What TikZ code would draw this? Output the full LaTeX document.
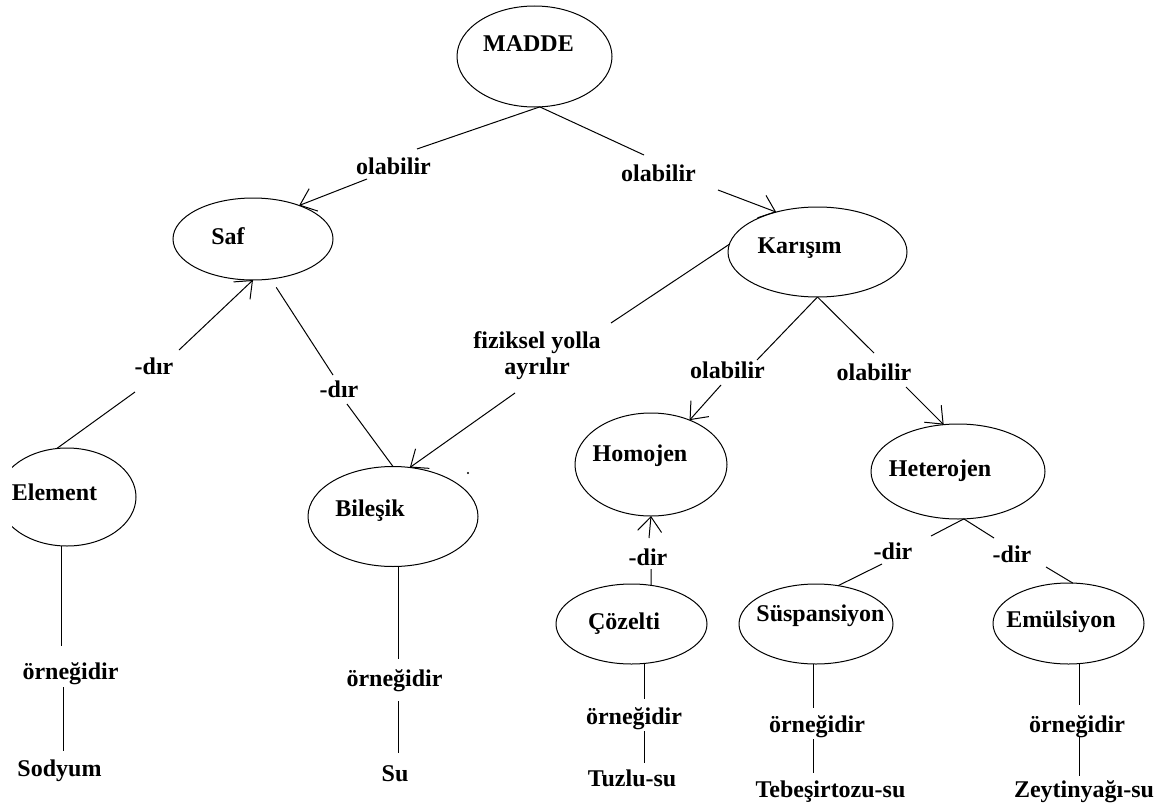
\documentclass[tikz,border=0pt]{standalone}
\usepackage{fontspec}
\setmainfont{Liberation Serif}
\usetikzlibrary{arrows.meta,shapes.geometric}
\begin{document}
\begin{tikzpicture}[x=0.75pt,y=-0.75pt,line width=0.75pt,
  every node/.style={font=\bfseries\fontsize{18}{19.5}\selectfont},
  bubble/.style={draw, ellipse, inner sep=0pt, outer sep=0pt},
  sz/.style 2 args={minimum width=#1*0.75pt, minimum height=#2*0.75pt},
  txt/.style={inner sep=0pt, text height=12.3pt, text depth=0pt},
  link/.style={line width=0.75pt},
  arr/.style={link, -{Straight Barb[length=11pt,width=18pt]}}]

\useasboundingbox (0,0) rectangle (1164,803);

% concept bubbles
\node[bubble, sz={155}{101}] (madde)       at (534.5,56.5)  {};
\node[bubble, sz={160}{82}]  (saf)         at (253,239)     {};
\node[bubble, sz={179}{90}]  (karisim)     at (817.5,252)   {};
\begin{scope}
  \clip (12,0) rectangle (1164,803);
  \node[bubble, sz={138}{98}] (element)    at (67,497)      {};
\end{scope}
\node[bubble, sz={170}{100}] (bilesik)     at (393,516.5)   {};
\node[bubble, sz={152}{103}] (homojen)     at (651,464.5)   {};
\node[bubble, sz={174}{95}]  (heterojen)   at (958,471.5)   {};
\node[bubble, sz={151}{80}]  (cozelti)     at (631.5,624)   {};
\node[bubble, sz={154}{80}]  (suspansiyon) at (816,624)     {};
\node[bubble, sz={151}{81}]  (emulsiyon)   at (1068.5,623.5){};

% bubble titles
\node[txt] (maddeT)       at (528.5,43)  {MADDE};
\node[txt] (safT)         at (228,236)   {Saf};
\node[txt] (karisimT)     at (799.5,245) {Karışım};
\node[txt] (elementT)     at (54.5,492)  {Element};
\node[txt] (bilesikT)     at (370,508)   {Bileşik};
\node[txt] (homojenT)     at (640,453)   {Homojen};
\node[txt] (heterojenT)   at (940,468)   {Heterojen};
\node[txt] (cozeltiT)     at (624,621)   {Çözelti};
\node[txt] (suspansiyonT) at (820.5,613) {Süspansiyon};
\node[txt] (emulsiyonT)   at (1061,619)  {Emülsiyon};

% link words
\node[txt] (olabL)  at (393.5,166) {olabilir};
\node[txt] (olabR)  at (658.5,173) {olabilir};
\node[txt] (olabHo) at (727.5,370) {olabilir};
\node[txt] (olabHe) at (874,372)   {olabilir};
\node[txt] (dirL)   at (154,366)   {-dır};
\node[txt] (dirR)   at (339,389)   {-dır};
\node[inner sep=0pt, align=center, anchor=north] (fiz) at (537,330.6) {fiziksel yolla\\ayrılır};
\node[txt] (dirCoz) at (648,557)   {-dir};
\node[txt] (dirSus) at (893,551)   {-dir};
\node[txt] (dirEmu) at (1012,554)  {-dir};

% examples
\node[txt] (orn1)    at (70.5,671)  {örneğidir};
\node[txt] (sodyum)  at (59.5,768)  {Sodyum};
\node[txt] (orn2)    at (394.5,678) {örneğidir};
\node[txt] (su)      at (395,773)   {Su};
\node[txt] (orn3)    at (634,716)   {örneğidir};
\node[txt] (tuzlu)   at (632,778)   {Tuzlu-su};
\node[txt] (orn4)    at (817,724)   {örneğidir};
\node[txt] (tebesir) at (830.5,789) {Tebeşirtozu-su};
\node[txt] (orn5)    at (1077,724)  {örneğidir};
\node[txt] (zeytin)  at (1084,789)  {Zeytinyağı-su};

% madde branches
\draw[link] (madde.-84) -- ([shift={(23.5,-17)}]olabL.center);
\draw[arr]  ([shift={(-26.5,13)}]olabL.center) -- (saf.36);
\draw[link] (madde.-84) -- ([shift={(-14.5,-18)}]olabR.center);
\draw[arr]  ([shift={(59.5,17)}]olabR.center) -- (karisim.136);

% saf branches
\draw[arr]  ([shift={(25,-16)}]dirL.center) -- (saf.south);
\draw[link] ([shift={(-19,26)}]dirL.center) -- (element.102);
\draw[link, shorten <=7.5pt] (saf.-66) -- ([shift={(-6,-14)}]dirR.center);
\draw[link] ([shift={(8,15)}]dirR.center) -- (bilesik.north);

% karisim branches
\draw[link] (karisim.175) -- ([shift={(74,-7.6)}]fiz.north);
\draw[arr]  ([shift={(-22,62.4)}]fiz.north) -- (bilesik.71);
\draw[link] (karisim.south) -- ([shift={(29.5,-10)}]olabHo.center);
\draw[arr]  ([shift={(-6.5,15)}]olabHo.center) -- (homojen.49);
\draw[link] (karisim.south) -- ([shift={(0,-19)}]olabHe.center);
\draw[arr]  ([shift={(32,15)}]olabHe.center) -- (heterojen.107);

% homojen / heterojen branches
\draw[arr]  ([shift={(1,-19)}]dirCoz.center) -- (homojen.south);
\draw[link] ([shift={(3,12)}]dirCoz.center) -- (cozelti.63);
\draw[link] (heterojen.-83) -- ([shift={(38,-15)}]dirSus.center);
\draw[link] ([shift={(-11,13)}]dirSus.center) -- (suspansiyon.60);
\draw[link] (heterojen.-83) -- ([shift={(-18,-16)}]dirEmu.center);
\draw[link] ([shift={(34,13)}]dirEmu.center) -- (emulsiyon.84);

% example chains
\draw[link] ([shift={(-6,0)}]element.south) -- ([shift={(-9.5,-25)}]orn1.center);
\draw[link] ([shift={(-7.5,16)}]orn1.center) -- ([shift={(3.5,-17)}]sodyum.center);
\draw[link] ([shift={(5,0)}]bilesik.south) -- ([shift={(3.5,-19)}]orn2.center);
\draw[link] ([shift={(3.5,23)}]orn2.center) -- ([shift={(3,-20)}]su.center);
\draw[link] ([shift={(12.5,0)}]cozelti.south) -- ([shift={(10,-17)}]orn3.center);
\draw[link] ([shift={(10,15)}]orn3.center) -- ([shift={(12,-15)}]tuzlu.center);
\draw[link] ([shift={(-3,0)}]suspansiyon.south) -- ([shift={(-4,-16)}]orn4.center);
\draw[link] ([shift={(-4,15)}]orn4.center) -- ([shift={(-17.5,-16)}]tebesir.center);
\draw[link] ([shift={(10.5,0)}]emulsiyon.south) -- ([shift={(2,-19)}]orn5.center);
\draw[link] ([shift={(2,12)}]orn5.center) -- ([shift={(-5,-13)}]zeytin.center);

% small speck beside the bilesik bubble
\fill (468,473) circle[radius=1.2];
\end{tikzpicture}
\end{document}
